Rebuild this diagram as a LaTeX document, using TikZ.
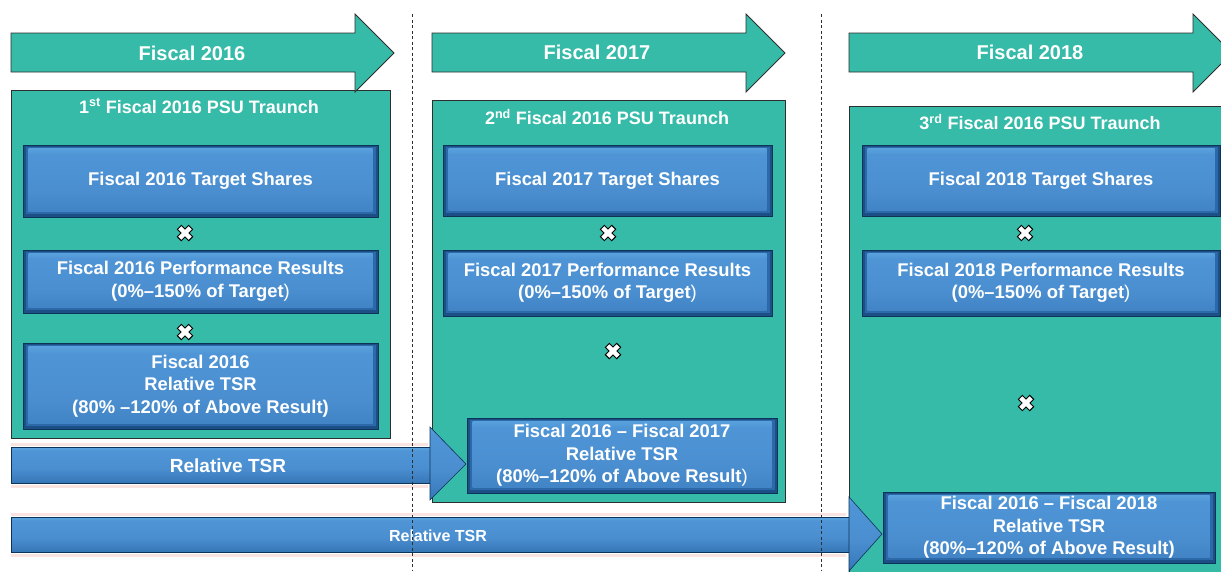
\documentclass[tikz,border=0pt]{standalone}
\usepackage{fontspec}
\setmainfont{Liberation Sans}
\usetikzlibrary{calc}

\definecolor{teal1}{HTML}{36BBA9}
\definecolor{pline}{HTML}{2E2E2E}
\definecolor{bline}{HTML}{0C3358}
\definecolor{bdark}{HTML}{1B4F86}
\definecolor{bedge}{HTML}{2B69A8}
\definecolor{bmid}{HTML}{4A8ED0}
\definecolor{bmid2}{HTML}{4F95D6}
\definecolor{blow}{HTML}{3474B6}
\definecolor{blight}{HTML}{6CBCEB}
\definecolor{halo}{HTML}{F6D9D4}

% bevelled blue fill, bottom to top
\pgfdeclareverticalshading{boxshade}{100bp}{color(0bp)=(blow); color(40bp)=(bmid); color(70bp)=(bmid2); color(85bp)=(blight); color(95bp)=(blight); color(100bp)=(bmid2)}
% shading of the long blue bars
\pgfdeclareverticalshading{barshade}{100bp}{color(0bp)=(bdark); color(14bp)=(bedge); color(45bp)=(bmid); color(70bp)=(bmid2); color(82bp)=(blight); color(92bp)=(bmid); color(100bp)=(bdark)}

\tikzset{
  panel/.style={fill=teal1, draw=pline, line width=0.8pt, inner sep=0pt},
  garrow/.style={fill=teal1, draw=pline, line width=0.8pt},
  glabel/.style={text=white, font=\bfseries\fontsize{20}{24}\selectfont},
  ptitle/.style={text=white, font=\bfseries\fontsize{18}{22}\selectfont},
  bbox/.style={draw=bline, line width=0.7pt, inner sep=0pt, text=white, align=center,
    font=\bfseries\fontsize{18.4}{22.5}\selectfont,
    path picture={
      \fill[bdark] (path picture bounding box.south west) rectangle (path picture bounding box.north east);
      \fill[bedge] ($(path picture bounding box.south west)+(2.5pt,3pt)$) rectangle ($(path picture bounding box.north east)+(-2.5pt,-1.5pt)$);
      \shade[shading=boxshade] ($(path picture bounding box.south west)+(5.5pt,6pt)$) rectangle ($(path picture bounding box.north east)+(-5.5pt,-3pt)$);
    }},
  xmark/.style={minimum size=20pt, inner sep=0pt, path picture={
      \coordinate (xmc) at (path picture bounding box.center);
      \draw[black, line width=6.4pt] ($(xmc)+(-6pt,-6pt)$) -- ($(xmc)+(6pt,6pt)$) ($(xmc)+(-6pt,6pt)$) -- ($(xmc)+(6pt,-6pt)$);
      \draw[white, line width=4.4pt] ($(xmc)+(-5.2pt,-5.2pt)$) -- ($(xmc)+(5.2pt,5.2pt)$) ($(xmc)+(-5.2pt,5.2pt)$) -- ($(xmc)+(5.2pt,-5.2pt)$);
    }},
  bar/.style={shading=barshade, draw=bline, line width=0.6pt},
  barhead/.style={shading=barshade, draw=bline, line width=0.6pt},
  barlabel/.style={text=white, font=\bfseries\fontsize{19}{23}\selectfont},
  divider/.style={draw=pline, line width=0.8pt, dash pattern=on 3pt off 2.5pt},
}

\begin{document}
\begin{tikzpicture}[x=1pt, y=-1pt]
  \useasboundingbox (0,0) rectangle (1221,571);
  \clip (0,0) rectangle (1221,571);

  % tranche panels
  \node[panel, minimum width=379pt, minimum height=348pt] (p1) at (200.5,264) {};
  \node[panel, minimum width=353pt, minimum height=402pt] (p2) at (608.5,301) {};
  \node[panel, minimum width=386pt, minimum height=484pt] (p3) at (1042,348) {};

  % fiscal year arrows
  \draw[garrow] (11,33) -- (355,33) -- (355,14) -- (394,53) -- (355,92) -- (355,72) -- (11,72) -- cycle;
  \draw[garrow] (432,33) -- (746,33) -- (746,14) -- (785,53) -- (746,92) -- (746,72) -- (432,72) -- cycle;
  \draw[garrow] (849,33) -- (1193,33) -- (1193,14) -- (1232,53) -- (1193,92) -- (1193,72) -- (849,72) -- cycle;
  \node[glabel] (f16) at (192,53) {Fiscal 2016};
  \node[glabel] (f17) at (597,52) {Fiscal 2017};
  \node[glabel] (f18) at (1030,52) {Fiscal 2018};

  % panel titles
  \node[ptitle] (t1) at (199,106) {1\textsuperscript{st} Fiscal 2016 PSU Traunch};
  \node[ptitle] (t2) at (607,117) {2\textsuperscript{nd} Fiscal 2016 PSU Traunch};
  \node[ptitle] (t3) at (1040,122) {3\textsuperscript{rd} Fiscal 2016 PSU Traunch};

  % first tranche
  \node[bbox, minimum width=355pt, minimum height=72pt] (ts1) at (200.5,181) {Fiscal 2016 Target Shares};
  \node[xmark] (x1a) at (185,233) {};
  \node[bbox, minimum width=355pt, minimum height=63pt] (pr1) at (200.5,281.5) {Fiscal 2016 Performance Results\\(0\%--150\% of Target{\mdseries)}};
  \node[xmark] (x1b) at (185,332) {};
  \node[bbox, minimum width=355pt, minimum height=86pt] (rt1) at (200.5,386) {Fiscal 2016\\Relative TSR\\(80\% --120\% of Above Result)};

  % second tranche
  \node[bbox, minimum width=329pt, minimum height=71pt] (ts2) at (607.5,180.5) {Fiscal 2017 Target Shares};
  \node[xmark] (x2a) at (608,233) {};
  \node[bbox, minimum width=329pt, minimum height=66pt] (pr2) at (607.5,283) {Fiscal 2017 Performance Results\\(0\%--150\% of Target{\mdseries)}};
  \node[xmark] (x2b) at (613,351) {};
  \node[bbox, minimum width=310pt, minimum height=75pt] (rt2) at (622,455.5) {Fiscal 2016 -- Fiscal 2017\\Relative TSR\\(80\%--120\% of Above Result{\mdseries)}};

  % third tranche
  \node[bbox, minimum width=358pt, minimum height=71pt] (ts3) at (1041,180.5) {Fiscal 2018 Target Shares};
  \node[xmark] (x3a) at (1025,233) {};
  \node[bbox, minimum width=358pt, minimum height=66pt] (pr3) at (1041,283) {Fiscal 2018 Performance Results\\(0\%--150\% of Target{\mdseries)}};
  \node[xmark] (x3b) at (1026,403) {};
  \node[bbox, minimum width=332pt, minimum height=71pt] (rt3) at (1049,527.5) {Fiscal 2016 -- Fiscal 2018\\Relative TSR\\(80\%--120\% of Above Result)};

  % relative TSR bars
  \draw[halo, line width=3pt, opacity=0.7] (11,444) -- (428,444) (11,486) -- (428,486);
  \draw[halo, line width=3pt, opacity=0.7] (11,514) -- (846,514) (11,555) -- (846,555);
  \shade[bar] (11,447) rectangle (432,483);
  \shade[barhead] (430,427) -- (466,464) -- (430,500) -- cycle;
  \node[barlabel] (rl1) at (228,466) {Relative TSR};
  \shade[bar] (11,517) rectangle (852,552);
  \shade[barhead] (849,497) -- (882,534) -- (849,571) -- cycle;
  \node[barlabel, font=\bfseries\fontsize{16}{19}\selectfont] (rl2) at (438,536) {Relative TSR};

  % year dividers
  \draw[divider] (412,14) -- (412,571);
  \draw[divider] (821,14) -- (821,571);
\end{tikzpicture}
\end{document}
